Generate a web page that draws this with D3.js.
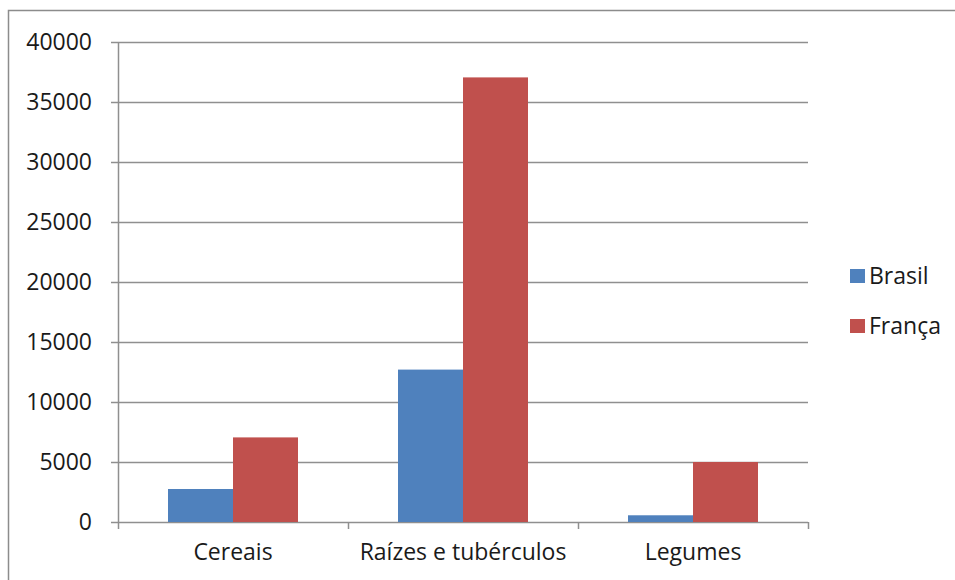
<!DOCTYPE html>
<html lang="pt">
<head>
<meta charset="UTF-8">
<title>Brasil x França</title>
<script src="https://d3js.org/d3.v7.min.js"></script>
<style>
    body { margin: 0; background: #fff; }
    text { font-family: "Open Sans", "DejaVu Sans", sans-serif; fill: #1a1a1a; }
    .legend-label { font-size: 23px; }
</style>
</head>
<body>
<svg width="955" height="580"></svg>
<script>
    // data
    const categories = ["Cereais", "Raízes e tubérculos", "Legumes"];
    const seriesNames = ["Brasil", "França"];
    const brasil = [2750, 12700, 560];
    const franca = [7050, 37050, 5000];
    const yTicks = [0, 5000, 10000, 15000, 20000, 25000, 30000, 35000, 40000];
    const colors = ["#4F81BD", "#C0504D"];

    const width = 955, height = 580;
    const plot = {left: 118, right: 808, top: 42, bottom: 522};

    const svg = d3.select("svg");

    // outer chart border
    svg.append("rect")
        .attr("x", 8.5).attr("y", 10.5)
        .attr("width", 960).attr("height", 600)
        .attr("fill", "none")
        .attr("stroke", "#8c8c8c")
        .attr("stroke-width", 1.5);

    const x = d3.scaleBand()
        .domain(categories)
        .range([plot.left, plot.right]);

    const xInner = d3.scaleBand()
        .domain(seriesNames)
        .range([50, 180]);

    const y = d3.scaleLinear()
        .domain([0, 40000])
        .range([plot.bottom, plot.top]);

    const color = d3.scaleOrdinal().domain(seriesNames).range(colors);

    // gridlines
    svg.append("g")
        .selectAll("line")
        .data(yTicks)
        .join("line")
        .attr("x1", plot.left - 7)
        .attr("x2", plot.right)
        .attr("y1", d => Math.round(y(d)) + 0.5)
        .attr("y2", d => Math.round(y(d)) + 0.5)
        .attr("stroke", "#8f8f8f")
        .attr("stroke-width", 1.5);

    // y axis labels
    const yAxis = d3.axisLeft(y)
        .tickValues(yTicks)
        .tickSize(0)
        .tickPadding(26)
        .tickFormat(d => d);

    const yG = svg.append("g")
        .attr("transform", `translate(${plot.left},0)`)
        .call(yAxis);
    yG.select(".domain").remove();
    yG.selectAll("text")
        .attr("fill", "#1a1a1a")
        .style("font-family", "'Open Sans', sans-serif")
        .style("font-size", "23px");

    // y axis line
    svg.append("line")
        .attr("x1", plot.left + 0.5).attr("x2", plot.left + 0.5)
        .attr("y1", plot.top).attr("y2", plot.bottom)
        .attr("stroke", "#8f8f8f")
        .attr("stroke-width", 1.5);

    // bars
    const rows = categories.map((c, i) => ({category: c, values: [brasil[i], franca[i]]}));

    svg.append("g")
        .selectAll("g")
        .data(rows)
        .join("g")
        .attr("transform", d => `translate(${x(d.category)},0)`)
        .selectAll("rect")
        .data(d => d.values.map((v, j) => ({name: seriesNames[j], value: v})))
        .join("rect")
        .attr("x", d => xInner(d.name))
        .attr("y", d => y(d.value))
        .attr("width", xInner.bandwidth())
        .attr("height", d => y(0) - y(d.value))
        .attr("fill", d => color(d.name));

    // x axis
    const xAxis = d3.axisBottom(x).tickSize(0).tickPadding(22);
    const xG = svg.append("g")
        .attr("transform", `translate(0,${plot.bottom})`)
        .call(xAxis);
    xG.select(".domain").remove();
    xG.selectAll("text")
        .attr("fill", "#1a1a1a")
        .style("font-family", "'Open Sans', sans-serif")
        .style("font-size", "23px");

    // x axis tick marks at band edges
    const edges = categories.map(c => x(c)).concat([plot.right]);
    svg.append("g")
        .selectAll("line")
        .data(edges)
        .join("line")
        .attr("x1", d => d + 0.5).attr("x2", d => d + 0.5)
        .attr("y1", plot.bottom).attr("y2", plot.bottom + 7)
        .attr("stroke", "#8f8f8f")
        .attr("stroke-width", 1.5);

    // legend
    const legend = svg.append("g")
        .attr("transform", "translate(850,269)");
    const items = legend.selectAll("g")
        .data(seriesNames)
        .join("g")
        .attr("transform", (d, i) => `translate(0,${i * 50})`);
    items.append("rect")
        .attr("width", 15).attr("height", 14)
        .attr("fill", d => color(d));
    items.append("text")
        .attr("class", "legend-label")
        .attr("x", 19)
        .attr("y", 15)
        .text(d => d);
</script>
</body>
</html>
